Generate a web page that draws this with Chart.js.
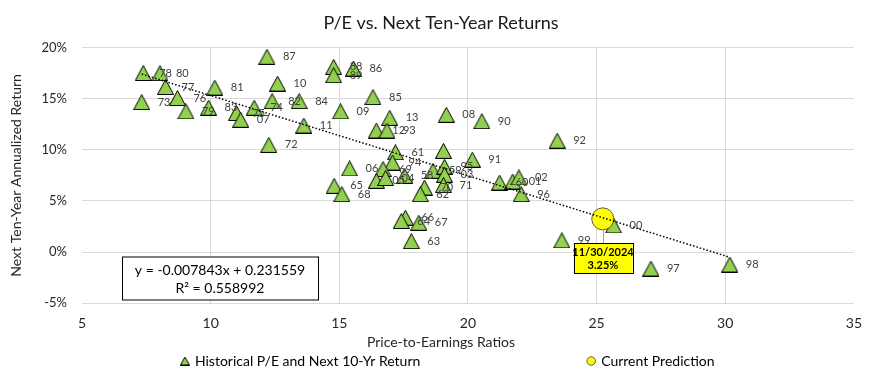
<!DOCTYPE html>
<html>
<head>
<meta charset="utf-8">
<script src="https://cdn.jsdelivr.net/npm/chart.js@4.4.1/dist/chart.umd.min.js"></script>
<style>
  html, body { margin: 0; padding: 0; background: #fff; }
</style>
</head>
<body>
<canvas id="peChart" width="874" height="392"></canvas>
<script>
// year labels, P/E and next ten-year annualized return (%)
const yearLabels = ["78", "80", "77", "73", "76", "79", "83", "81", "75", "07",
  "74", "82", "84", "10", "87", "72", "11", "09", "88", "89",
  "86", "85", "13", "12", "93", "08", "90", "92", "61", "",
  "91", "06", "94", "69", "05", "04", "58", "59", "95", "03",
  "71", "70", "62", "65", "68", "60", "01", "02", "96", "66",
  "64", "67", "63", "99", "00", "97", "98"];
const peRatios = [7.38, 8.03, 8.25, 7.32, 8.71, 9.04, 9.92, 10.16, 11.0, 11.17,
  11.69, 12.39, 13.44, 12.6, 12.19, 12.26, 13.62, 15.05, 14.78, 14.78,
  15.55, 16.31, 16.96, 16.44, 16.85, 19.16, 20.54, 23.47, 17.18, 19.05,
  20.17, 15.4, 17.07, 16.7, 16.44, 16.8, 17.54, 18.64, 19.09, 19.09,
  19.05, 18.31, 18.15, 14.8, 15.1, 21.23, 21.74, 21.98, 22.07, 17.57,
  17.41, 18.09, 17.8, 23.65, 25.66, 27.11, 30.18];
const tenYrReturns = [17.52, 17.5, 16.15, 14.67, 15.07, 13.76, 14.12, 16.09, 13.6, 12.94,
  14.12, 14.77, 14.77, 16.48, 19.1, 10.48, 12.38, 13.76, 18.11, 17.3,
  17.95, 15.16, 13.13, 11.89, 11.89, 13.43, 12.8, 10.9, 9.76, 9.9,
  9.04, 8.18, 8.75, 8.12, 6.97, 7.24, 7.46, 7.95, 8.35, 7.56,
  6.55, 6.31, 5.66, 6.48, 5.66, 6.8, 6.9, 7.3, 5.66, 3.36,
  3.04, 2.87, 1.07, 1.14, 2.6, -1.61, -1.22];

const currentPE = [25.24];
const currentReturn = [3.25];
const currentCallout = ["11/30/2024", "3.25%"];

// dotted trend line end points
const trendPE = [7.32, 30.18];
const trendReturn = [17.41, -0.51];
const equationLines = ["y = -0.007843x + 0.231559", "R\u00B2 = 0.558992"];

const seriesNames = ["Historical P/E and Next 10-Yr Return", "Current Prediction"];

const GREEN = "#92D050";
const YELLOW = "#FFFF00";
Chart.defaults.font.family = "Lato";

function triangleMarker(w, h) {
  const c = document.createElement("canvas");
  c.width = w;
  c.height = h;
  const g = c.getContext("2d");
  g.beginPath();
  g.moveTo(w / 2, 0.5);
  g.lineTo(w - 0.5, h - 0.5);
  g.lineTo(0.5, h - 0.5);
  g.closePath();
  g.fillStyle = GREEN;
  g.fill();
  g.strokeStyle = "#000";
  g.lineWidth = 1;
  g.stroke();
  return c;
}
const bigTriangle = triangleMarker(17, 16);
const smallTriangle = triangleMarker(10, 9);

const pointLabels = {
  id: "pointLabels",
  afterDatasetsDraw(chart) {
    const ctx = chart.ctx;
    ctx.save();
    ctx.font = "11px Lato";
    ctx.fillStyle = "#404040";
    ctx.textBaseline = "middle";
    chart.getDatasetMeta(0).data.forEach((pt, i) => {
      ctx.fillText(yearLabels[i], pt.x + 16, pt.y);
    });
    ctx.restore();
  }
};

const equationBox = {
  id: "equationBox",
  afterDatasetsDraw(chart) {
    const { ctx, scales } = chart;
    const cx = Math.round(scales.x.getPixelForValue(10.38));
    const cy = Math.round(scales.y.getPixelForValue(-2.55));
    const w = 196, h = 43;
    ctx.save();
    ctx.fillStyle = "#fff";
    ctx.fillRect(cx - w / 2, cy - h / 2, w, h);
    ctx.strokeStyle = "#000";
    ctx.lineWidth = 1;
    ctx.strokeRect(cx - w / 2 + 0.5, cy - h / 2 + 0.5, w, h);
    ctx.fillStyle = "#000";
    ctx.font = "14px Lato";
    ctx.textAlign = "center";
    ctx.textBaseline = "middle";
    ctx.fillText(equationLines[0], cx, cy - 8);
    ctx.fillText(equationLines[1], cx, cy + 10);
    ctx.restore();
  }
};

const currentLabel = {
  id: "currentLabel",
  afterDatasetsDraw(chart) {
    const ctx = chart.ctx;
    const pt = chart.getDatasetMeta(1).data[0];
    const x = Math.round(pt.x), top = Math.round(pt.y) + 24;
    const w = 59, h = 30;
    ctx.save();
    ctx.strokeStyle = "#a6a6a6";
    ctx.lineWidth = 1;
    ctx.beginPath();
    ctx.moveTo(x + 0.5, pt.y + 11);
    ctx.lineTo(x + 0.5, top);
    ctx.stroke();
    ctx.fillStyle = YELLOW;
    ctx.fillRect(x - w / 2, top, w, h);
    ctx.strokeStyle = "#000";
    ctx.strokeRect(Math.round(x - w / 2) + 0.5, top + 0.5, w, h);
    ctx.fillStyle = "#000";
    ctx.font = "bold 11px Lato";
    ctx.textAlign = "center";
    ctx.textBaseline = "middle";
    ctx.fillText(currentCallout[0], x, top + 9);
    ctx.fillText(currentCallout[1], x, top + 22);
    ctx.restore();
  }
};

const gap = (n) => "\u00A0".repeat(n);

new Chart(document.getElementById("peChart"), {
  type: "scatter",
  data: {
    datasets: [
      {
        label: seriesNames[0],
        data: peRatios.map((v, i) => ({ x: v, y: tenYrReturns[i] })),
        pointStyle: bigTriangle,
        order: 3,
      },
      {
        label: seriesNames[1],
        data: currentPE.map((v, i) => ({ x: v, y: currentReturn[i] })),
        pointStyle: "circle",
        pointRadius: 11,
        backgroundColor: YELLOW,
        borderColor: "#595959",
        borderWidth: 1,
        order: 2,
      },
      {
        label: "trend",
        type: "line",
        data: trendPE.map((v, i) => ({ x: v, y: trendReturn[i] })),
        borderColor: "#000",
        borderWidth: 1.5,
        borderDash: [1.5, 2],
        pointRadius: 0,
        fill: false,
        order: 1,
      },
    ],
  },
  options: {
    responsive: false,
    animation: false,
    layout: { padding: { top: 10, left: 8, right: 0, bottom: 14 } },
    scales: {
      x: {
        type: "linear",
        min: 5,
        max: 35,
        afterFit: (s) => { s.height = 31; },
        ticks: { stepSize: 5, padding: 12, color: "#262626", font: { size: 14 } },
        grid: {
          drawTicks: false,
          color: (c) => (c.tick && (c.tick.value === 5 || c.tick.value === 35)) ? "rgba(0,0,0,0)" : "#d9d9d9",
        },
        border: { display: false },
      },
      y: {
        min: -5,
        max: 20,
        afterFit: (s) => { s.width = 74; },
        ticks: {
          stepSize: 5,
          padding: 15,
          color: "#262626",
          font: { size: 13 },
          callback: (v) => v + "%",
        },
        grid: { drawTicks: false, color: "#d9d9d9" },
        border: { display: false },
        title: {
          display: true,
          text: "Next Ten-Year Annualized Return",
          color: "#262626",
          font: { size: 14 },
          padding: { top: 0, bottom: 0 },
        },
      },
      yRight: {
        position: "right",
        display: true,
        afterFit: (s) => { s.width = 19; },
        ticks: { display: false },
        grid: { display: false },
        border: { display: false },
      },
    },
    plugins: {
      tooltip: { enabled: false },
      title: {
        display: true,
        text: "P/E vs. Next Ten-Year Returns",
        color: "#1a1a1a",
        font: { size: 18, weight: "normal" },
        padding: { top: 2, bottom: 14 },
      },
      subtitle: {
        display: true,
        position: "bottom",
        text: "Price-to-Earnings Ratios",
        color: "#262626",
        font: { size: 14 },
        padding: { top: 0, bottom: 0 },
        weight: 500,
      },
      legend: {
        position: "bottom",
        fullSize: false,
        weight: 1000,
        labels: {
          usePointStyle: true,
          boxWidth: 6,
          boxHeight: 6,
          padding: 3,
          color: "#262626",
          font: { size: 14 },
          generateLabels: () => [
            {
              text: seriesNames[0] + gap(46),
              pointStyle: smallTriangle,
              fillStyle: GREEN,
              strokeStyle: "#000",
              lineWidth: 1,
              hidden: false,
              datasetIndex: 0,
            },
            {
              text: seriesNames[1] + gap(11),
              pointStyle: "circle",
              fillStyle: YELLOW,
              strokeStyle: "#595959",
              lineWidth: 1,
              hidden: false,
              datasetIndex: 1,
            },
          ],
        },
      },
    },
  },
  plugins: [pointLabels, equationBox, currentLabel],
});
</script>
</body>
</html>
